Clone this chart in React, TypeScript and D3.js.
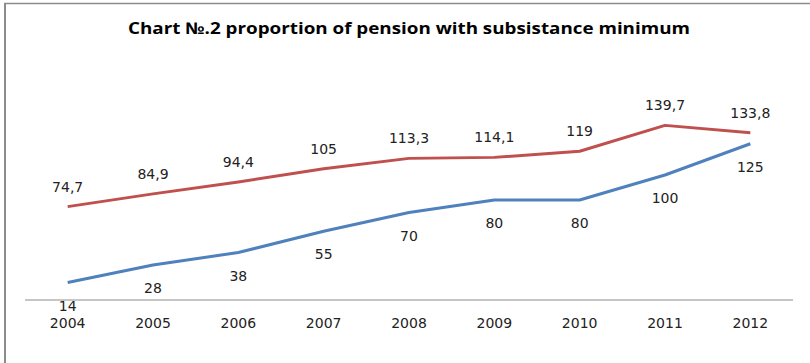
import React from "react";
import * as d3 from "d3";

const years = ["2004", "2005", "2006", "2007", "2008", "2009", "2010", "2011", "2012"];
const subsistence = [74.7, 84.9, 94.4, 105, 113.3, 114.1, 119, 139.7, 133.8];
const pension = [14, 28, 38, 55, 70, 80, 80, 100, 125];
const subsistenceLabels = ["74,7", "84,9", "94,4", "105", "113,3", "114,1", "119", "139,7", "133,8"];
const pensionLabels = ["14", "28", "38", "55", "70", "80", "80", "100", "125"];
const title = "Chart №.2 proportion of pension with subsistance minimum";

const W = 810;
const H = 363;

export default function App() {
  const x = d3.scaleBand<string>().domain(years).range([25, 793]);
  const y = d3.scaleLinear().domain([0, 160]).range([300, 100]);
  const cx = (d: string) => (x(d) as number) + x.bandwidth() / 2;
  const line = d3
    .line<number>()
    .x((_, i) => cx(years[i]))
    .y((v) => y(v));
  const font = "'DejaVu Sans', Verdana, sans-serif";
  return (
    <svg
      width={W}
      height={H}
      style={{ position: "absolute", left: 0, top: 0, background: "#fff" }}
    >
      <rect x={0} y={0} width={W} height={H} fill="#fff" />
      <line x1={5} y1={3} x2={5} y2={H} stroke="#8c8c8c" strokeWidth={2} />
      <line x1={4} y1={3.5} x2={W} y2={3.5} stroke="#8c8c8c" strokeWidth={1.5} />
      <text
        x={128}
        y={34}
        fontFamily="'Open Sans', sans-serif"
        fontWeight="bold"
        fontSize={16}
        textLength={562}
        lengthAdjust="spacingAndGlyphs"
        fill="#000"
      >
        {title}
      </text>
      <line x1={25} y1={y(0)} x2={793} y2={y(0)} stroke="#8c8c8c" strokeWidth={1} />
      {years.map((yr) => (
        <text
          key={yr}
          x={cx(yr)}
          y={328}
          textAnchor="middle"
          fontFamily={font}
          fontSize={14}
          fill="#222"
        >
          {yr}
        </text>
      ))}
      <path d={line(subsistence) || ""} fill="none" stroke="#c0504d" strokeWidth={3} strokeLinejoin="round" />
      <path d={line(pension) || ""} fill="none" stroke="#4f81bd" strokeWidth={3} strokeLinejoin="round" />
      {subsistence.map((v, i) => (
        <text
          key={"s" + i}
          x={cx(years[i])}
          y={y(v) - 15}
          textAnchor="middle"
          fontFamily={font}
          fontSize={14}
          fill="#222"
        >
          {subsistenceLabels[i]}
        </text>
      ))}
      {pension.map((v, i) => (
        <text
          key={"p" + i}
          x={cx(years[i])}
          y={y(v) + 28}
          textAnchor="middle"
          fontFamily={font}
          fontSize={14}
          fill="#222"
        >
          {pensionLabels[i]}
        </text>
      ))}
    </svg>
  );
}
